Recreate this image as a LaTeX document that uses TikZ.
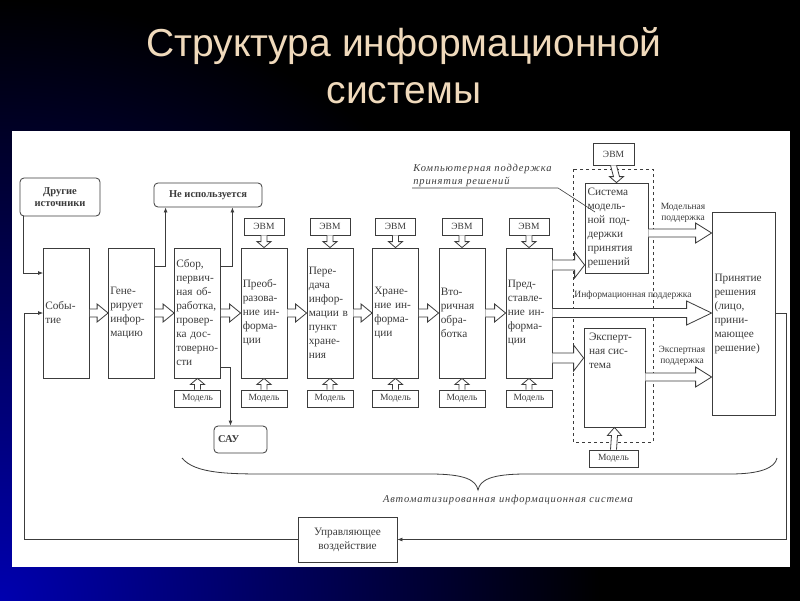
\documentclass[tikz,border=0pt]{standalone}
\usepackage{fontspec}
\setmainfont{Liberation Serif}
\newfontfamily\ttlfont{Liberation Sans}
\newfontfamily\capfont[LetterSpace=8]{Liberation Serif}
\usetikzlibrary{calc,arrows.meta}
\definecolor{ink}{RGB}{60,60,60}
\definecolor{titlecol}{RGB}{240,218,188}
\definecolor{deepblue}{RGB}{0,0,175}
\pgfdeclareradialshading{cornerglow}{\pgfpoint{0bp}{0bp}}{color(0bp)=(deepblue); color(12.5bp)=(black); color(50bp)=(black)}
\tikzset{
  box/.style={draw=ink, text=ink, fill=white, align=left, inner sep=2pt, font=\fontsize{11.3}{14}\selectfont},
  stage/.style={box, inner xsep=1.5pt, minimum width=46pt, minimum height=130pt, text width=42.5pt},
  small/.style={draw=ink, text=ink, fill=white, inner sep=1pt, font=\fontsize{9.5}{11}\selectfont},
  evm/.style={small, minimum width=40pt, minimum height=17pt},
  mdl/.style={small, minimum width=46pt, minimum height=17pt},
  rbox/.style={draw=ink, text=ink, fill=white, rounded corners=4pt, align=center, font=\bfseries\fontsize{10.5}{12}\selectfont},
  note/.style={text=ink, align=center, inner sep=1pt, font=\fontsize{9.5}{11}\selectfont},
  capt/.style={text=ink, inner sep=1pt, font=\capfont\itshape\fontsize{10.5}{13}\selectfont},
  arr/.style={draw=ink, -{Latex[length=5pt,width=4pt]}},
  hollow/.style={draw=ink, fill=white, line join=miter},
}
% hollow block arrows: start, tip, shaft half, head half, head offset
\newcommand{\harr}[5]{\draw[hollow] ($#1+(0,#3)$) -- ($#2+(#5,#3)$) -- ($#2+(#5,#4)$) -- #2 -- ($#2+(#5,-#4)$) -- ($#2+(#5,-#3)$) -- ($#1+(0,-#3)$);}
\newcommand{\varr}[5]{\draw[hollow] ($#1+(#3,0)$) -- ($#2+(#3,#5)$) -- ($#2+(#4,#5)$) -- #2 -- ($#2+(-#4,#5)$) -- ($#2+(-#3,#5)$) -- ($#1+(-#3,0)$);}
\begin{document}
\begin{tikzpicture}[x=1pt, y=-1pt, line width=0.8pt]
  \useasboundingbox (0,0) rectangle (800,600);
  % background
  \begin{scope}
    \clip (0,0) rectangle (800,600);
    \fill[black] (0,0) rectangle (800,600);
    \shade[shading=cornerglow] (0,600) circle (1200pt);
  \end{scope}
  \fill[white] (12,131) rectangle (790,567);
  \node[font=\ttlfont\fontsize{39}{47}\selectfont, text=titlecol, align=center] (title) at (404,66) {Структура информационной\\системы};

  \draw[ink, dashed, line width=0.6pt] (573,169) rectangle (653,442);

  % chain
  \node[rbox, minimum width=80pt, minimum height=38pt] (other) at (60,197) {Другие\\источники};
  \node[rbox, minimum width=108pt, minimum height=24pt] (unused) at (208,195) {Не используется};
  \node[stage] (ev) at (66.5,313) {Собы-\\тие};
  \node[stage] (gen) at (131.5,313) {Гене-\\рирует\\инфор-\\мацию};
  \node[stage] (col) at (197.5,313) {Сбор,\\первич-\\ная об-\\работка,\\провер-\\ка дос-\\товерно-\\сти};
  \node[stage] (conv) at (264,313) {Преоб-\\разова-\\ние ин-\\форма-\\ции};
  \node[stage] (trans) at (330,313) {Пере-\\дача\\инфор-\\мации в\\пункт\\хране-\\ния};
  \node[stage] (stor) at (395.5,313) {Хране-\\ние ин-\\форма-\\ции};
  \node[stage] (sec) at (462,313) {Вто-\\ричная\\обра-\\ботка};
  \node[stage] (pres) at (529,313) {Пред-\\ставле-\\ние ин-\\форма-\\ции};

  \node[evm] (e1) at (264,226.5) {ЭВМ};
  \node[evm] (e2) at (330,226.5) {ЭВМ};
  \node[evm] (e3) at (395.5,226.5) {ЭВМ};
  \node[evm] (e4) at (462,226.5) {ЭВМ};
  \node[evm] (e5) at (529,226.5) {ЭВМ};
  \node[mdl] (m0) at (197.5,398.5) {Модель};
  \node[mdl] (m1) at (264,398.5) {Модель};
  \node[mdl] (m2) at (330,398.5) {Модель};
  \node[mdl] (m3) at (395.5,398.5) {Модель};
  \node[mdl] (m4) at (462,398.5) {Модель};
  \node[mdl] (m5) at (529,398.5) {Модель};

  % decision support
  \node[box, minimum width=63pt, minimum height=90pt, text width=58pt] (sys) at (616.5,228) {Система\\модель-\\ной под-\\держки\\принятия\\решений};
  \node[evm, minimum width=41pt, minimum height=22pt] (e6) at (613.5,154) {ЭВМ};
  \node[box, minimum width=61pt, minimum height=99pt,
    label={[box, draw=none, fill=none, anchor=north west, xshift=3pt, yshift=-3pt]north west:{Эксперт-\\ная сис-\\тема}}] (exp) at (614.5,377.5) {};
  \node[mdl, minimum width=49pt] (m6) at (613.5,458.5) {Модель};
  \node[box, minimum width=63pt, minimum height=203pt, text width=58pt] (dec) at (743.5,313.5) {Принятие\\решения\\(лицо,\\прини-\\мающее\\решение)};
  \node[rbox, minimum width=53pt, minimum height=27pt, text width=45pt, align=left] (cay) at (240.5,439.5) {САУ};
  \node[box, minimum width=99pt, minimum height=45pt, align=center] (ctrl) at (347.5,539.5) {Управляющее\\воздействие};

  \node[note] (lmod) at (683,213) {Модельная\\поддержка};
  \node[note] (lexp) at (682,356) {Экспертная\\поддержка};
  \node[note] (linf) at (633,295) {Информационная поддержка};
  \node[capt, align=left, anchor=south west] (cps) at (412,188) {Компьютерная поддержка\\принятия решений};
  \node[capt] (ais) at (508,500) {Автоматизированная информационная система};

  % thin connectors
  \draw[arr] ([xshift=4pt]other.south west) |- ([yshift=40pt]ev.west);
  \draw[arr] ([yshift=47pt]gen.east) -| ([xshift=12pt]unused.south west);
  \draw[arr] ([yshift=47pt]col.east) -| ([xshift=-30pt]unused.south east);
  \draw[arr] ([yshift=-54pt]col.east) -| ([xshift=-10pt]cay.north);
  \coordinate (fbr) at (786,539.5);
  \coordinate (fbl) at (24,539.5);
  \draw[arr] (dec.east) -| (fbr) -- (ctrl.east);
  \draw[arr] (ctrl.west) -- (fbl) |- (ev.west);

  % hollow arrows
  \harr{(ev.east)}{(gen.west)}{4}{9}{-11}
  \harr{(gen.east)}{(col.west)}{4}{9}{-11}
  \harr{(col.east)}{(conv.west)}{4}{9}{-11}
  \harr{(conv.east)}{(trans.west)}{4}{9}{-11}
  \harr{(trans.east)}{(stor.west)}{4}{9}{-11}
  \harr{(stor.east)}{(sec.west)}{4}{9}{-11}
  \harr{(sec.east)}{(pres.west)}{4}{9}{-11}
  \varr{(e1.south)}{(conv.north)}{3}{7}{-6}
  \varr{(e2.south)}{(trans.north)}{3}{7}{-6}
  \varr{(e3.south)}{(stor.north)}{3}{7}{-6}
  \varr{(e4.south)}{(sec.north)}{3}{7}{-6}
  \varr{(e5.south)}{(pres.north)}{3}{7}{-6}
  \varr{(e6.south)}{(sys.north)}{3}{7}{-6}
  \varr{(m0.north)}{(col.south)}{3}{7}{6}
  \varr{(m1.north)}{(conv.south)}{3}{7}{6}
  \varr{(m2.north)}{(trans.south)}{3}{7}{6}
  \varr{(m3.north)}{(stor.south)}{3}{7}{6}
  \varr{(m4.north)}{(sec.south)}{3}{7}{6}
  \varr{(m5.north)}{(pres.south)}{3}{7}{6}
  \varr{(m6.north)}{(exp.south)}{3}{7}{8}
  \coordinate (tipsys) at ([yshift=-37pt]sys.west);
  \coordinate (tipexp) at ([yshift=19.5pt]exp.west);
  \coordinate (tipmod) at ([yshift=80.5pt]dec.west);
  \coordinate (tipexs) at ([yshift=-63.5pt]dec.west);
  \harr{(pres.east |- tipsys)}{(tipsys)}{5}{13}{-10}
  \harr{(pres.east |- tipexp)}{(tipexp)}{5}{13}{-10}
  \harr{(pres.east)}{(pres.east -| dec.west)}{4.5}{12}{-25}
  \harr{(sys.east |- tipmod)}{(tipmod)}{4}{10}{-16}
  \harr{(exp.east |- tipexs)}{(tipexs)}{4}{10}{-16}

  % leader and brace
  \coordinate (cpsend) at (595,212);
  \draw[ink, line width=0.6pt] (cps.south west) -- ([xshift=5pt]cps.south east) -- (cpsend);
  \draw[ink] (182,458) .. controls (195,474) and (230,474) .. (270,474) -- (430,474)
    .. controls (465,474) and (476,480) .. (478,490)
    .. controls (480,480) and (491,474) .. (526,474) -- (730,474)
    .. controls (760,474) and (775,468) .. (777,458);
\end{tikzpicture}
\end{document}
